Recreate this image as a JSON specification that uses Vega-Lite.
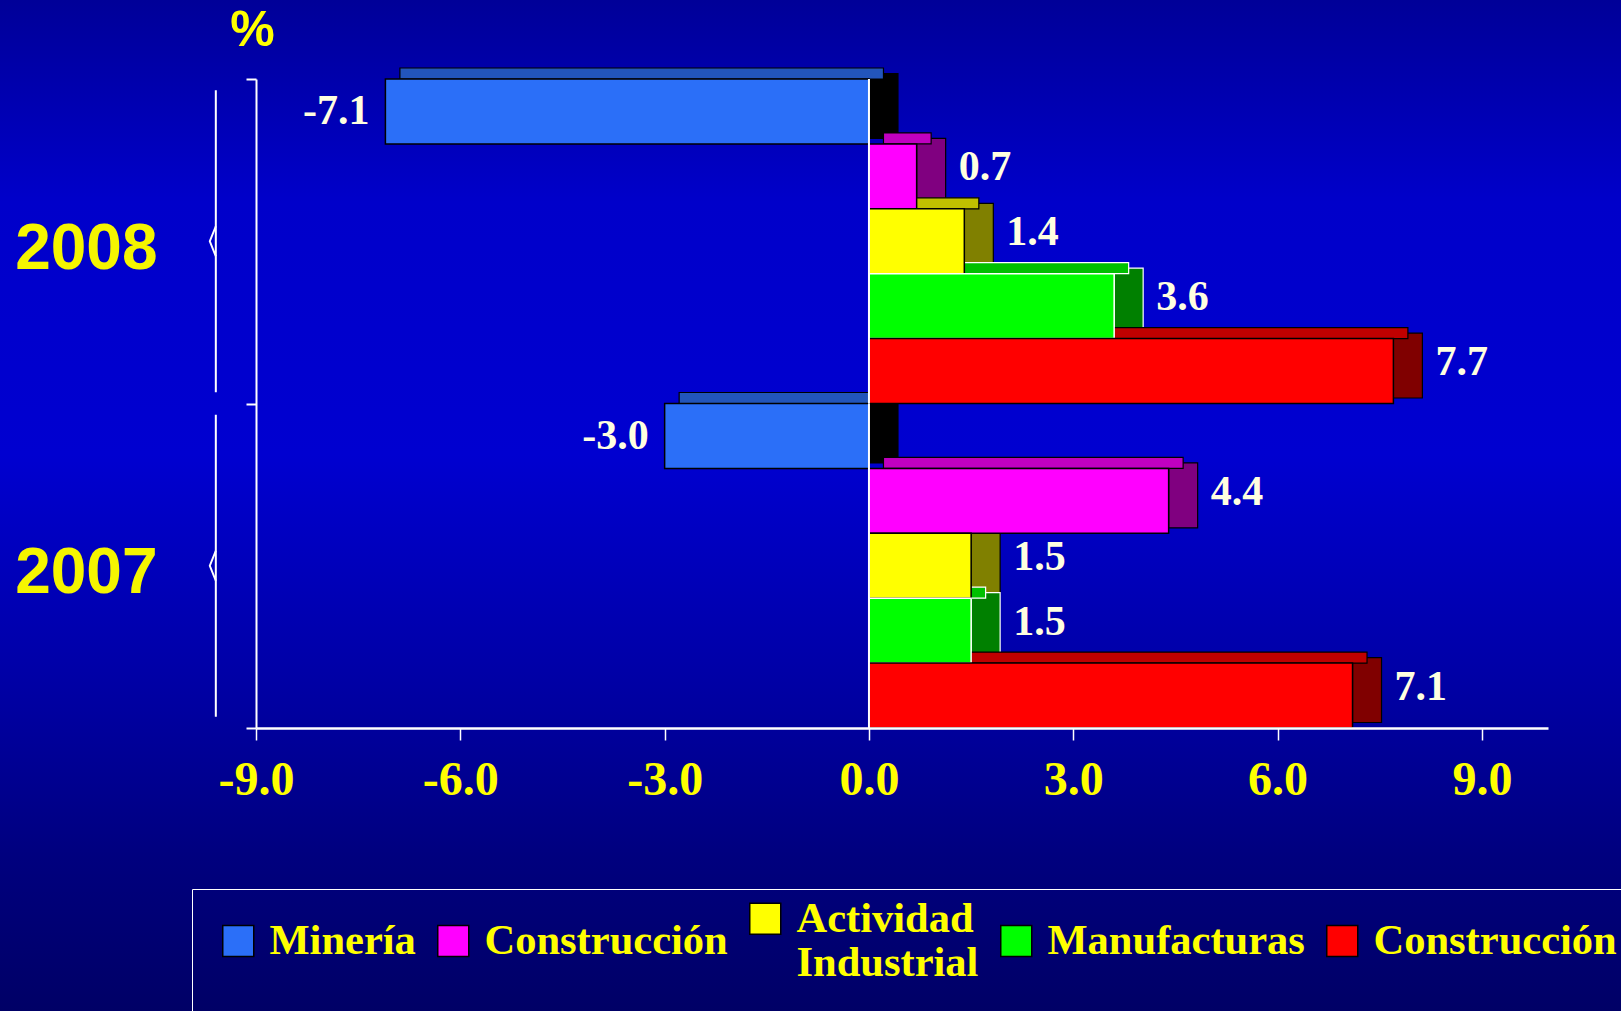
{
  "$schema": "https://vega.github.io/schema/vega-lite/v6.json",
  "width": 1621,
  "height": 1011,
  "autosize": {"type": "none"},
  "padding": 0,
  "background": "#0000B0",
  "config": {
    "view": {
      "stroke": null,
      "fill": {"gradient": "linear", "x1": 0, "y1": 0, "x2": 0, "y2": 1,
        "stops": [
          {"offset": 0, "color": "#000098"},
          {"offset": 0.2, "color": "#0000CA"},
          {"offset": 0.45, "color": "#0000D0"},
          {"offset": 0.7, "color": "#0000A0"},
          {"offset": 0.85, "color": "#00007E"},
          {"offset": 1, "color": "#000066"}
        ]}
    },
    "locale": {"number": {"decimal": ".", "thousands": ",", "grouping": [3], "currency": ["$", ""], "minus": "-"}}
  },
  "data": {
    "values": [
      {"year": "2008", "serie": "Minería", "v": -7.1},
      {"year": "2008", "serie": "Construcción", "v": 0.7},
      {"year": "2008", "serie": "Actividad Industrial", "v": 1.4},
      {"year": "2008", "serie": "Manufacturas", "v": 3.6},
      {"year": "2008", "serie": "Construcción ", "v": 7.7},
      {"year": "2007", "serie": "Minería", "v": -3.0},
      {"year": "2007", "serie": "Construcción", "v": 4.4},
      {"year": "2007", "serie": "Actividad Industrial", "v": 1.5},
      {"year": "2007", "serie": "Manufacturas", "v": 1.5},
      {"year": "2007", "serie": "Construcción ", "v": 7.1}
    ]
  },
  "layer": [
    {
      "transform": [{"filter": "datum.serie === 'Minería'"}],
      "mark": {"type": "bar", "fill": null, "stroke": "white", "strokeWidth": 2, "height": {"band": 0.93}},
      "encoding": {
        "x": {"datum": -9.59, "type": "quantitative", "scale": {"domain": [-9, 9.97], "range": [256, 1548], "nice": false, "zero": false},
          "axis": {"orient": "bottom", "offset": -283, "zindex": 1, "title": null, "values": [-9, -6, -3, 0, 3, 6, 9], "format": ".1f", "grid": false, "labelFlush": false,
            "tickSize": 12, "tickColor": "white", "tickWidth": 1.5, "domainColor": "white", "domainWidth": 2.5,
            "labelColor": "#FFFF00", "labelFont": "Liberation Serif", "labelFontWeight": "bold", "labelFontSize": 48, "labelPadding": 16}},
        "x2": {"datum": -9.59},
        "y": {"field": "year", "type": "nominal", "scale": {"domain": ["2008", "2007"], "range": [79, 728], "paddingInner": 0, "paddingOuter": 0},
          "axis": {"orient": "left", "offset": -256, "zindex": 1, "title": "%", "titleAngle": 0, "titleX": -4, "titleY": 30, "titleAlign": "center", "titleBaseline": "middle",
            "titleFont": "Liberation Sans", "titleFontWeight": "bold", "titleFontSize": 50, "titleColor": "#FFFF00",
            "labelFont": "Liberation Sans", "labelFontWeight": "bold", "labelFontSize": 64, "labelColor": "#F5F500", "labelPadding": 89, "labelOffset": 8,
            "tickBand": "extent", "tickSize": 10, "tickColor": "white", "tickWidth": 2, "domainColor": "white", "domainWidth": 2, "grid": false}}
      }
    },
    {
      "transform": [{"filter": "datum.serie === 'Minería'"}],
      "mark": {"type": "point", "shape": "M0,-1 L-0.4,0 L0,1", "size": 900, "filled": false, "stroke": "white", "strokeWidth": 2, "opacity": 1},
      "encoding": {
        "x": {"datum": -9.59, "type": "quantitative", "scale": {"domain": [-9, 9.97], "range": [256, 1548], "nice": false, "zero": false}},
        "y": {"field": "year", "type": "nominal", "scale": {"domain": ["2008", "2007"], "range": [79, 728], "paddingInner": 0, "paddingOuter": 0}}
      }
    },
    {
      "transform": [{"filter": "datum.v > 0"}],
      "mark": {"type": "bar", "x2Offset": 29, "strokeWidth": 1.2},
      "encoding": {
        "x": {"field": "v", "type": "quantitative", "scale": {"domain": [-9, 9.97], "range": [256, 1548], "nice": false, "zero": false}},
        "x2": {"field": "v"},
        "y": {"field": "year", "type": "nominal", "scale": {"domain": ["2008", "2007"], "range": [79, 728], "paddingInner": 0, "paddingOuter": 0}},
        "yOffset": {"field": "serie", "type": "nominal", "scale": {"domain": ["Minería", "Construcción", "Actividad Industrial", "Manufacturas", "Construcción "], "range": [-5.5, 319], "paddingInner": 0, "paddingOuter": 0}},
        "fill": {"field": "serie", "type": "nominal", "scale": {"domain": ["Minería", "Construcción", "Actividad Industrial", "Manufacturas", "Construcción "], "range": ["#000000", "#800080", "#808000", "#008000", "#800000"]}, "legend": null},
        "stroke": {"condition": {"test": "datum.serie === 'Manufacturas'", "value": "white"}, "value": "black"}
      }
    },
    {
      "transform": [{"filter": "datum.v < 0"}],
      "mark": {"type": "bar", "x2Offset": 29, "strokeWidth": 1.2},
      "encoding": {
        "x": {"datum": 0, "type": "quantitative", "scale": {"domain": [-9, 9.97], "range": [256, 1548], "nice": false, "zero": false}},
        "x2": {"datum": 0},
        "y": {"field": "year", "type": "nominal", "scale": {"domain": ["2008", "2007"], "range": [79, 728], "paddingInner": 0, "paddingOuter": 0}},
        "yOffset": {"field": "serie", "type": "nominal", "scale": {"domain": ["Minería", "Construcción", "Actividad Industrial", "Manufacturas", "Construcción "], "range": [-5.5, 319], "paddingInner": 0, "paddingOuter": 0}},
        "fill": {"field": "serie", "type": "nominal", "scale": {"domain": ["Minería", "Construcción", "Actividad Industrial", "Manufacturas", "Construcción "], "range": ["#000000", "#800080", "#808000", "#008000", "#800000"]}, "legend": null},
        "stroke": {"value": "black"}
      }
    },
    {
      "mark": {"type": "bar", "xOffset": 14.5, "x2Offset": 14.5, "strokeWidth": 1.2},
      "encoding": {
        "x": {"field": "v", "type": "quantitative", "scale": {"domain": [-9, 9.97], "range": [256, 1548], "nice": false, "zero": false}},
        "x2": {"datum": 0},
        "y": {"field": "year", "type": "nominal", "scale": {"domain": ["2008", "2007"], "range": [79, 728], "paddingInner": 0, "paddingOuter": 0}},
        "yOffset": {"field": "serie", "type": "nominal", "scale": {"domain": ["Minería", "Construcción", "Actividad Industrial", "Manufacturas", "Construcción "], "range": [-11, 259.6], "paddingInner": 0.8305, "paddingOuter": 0}},
        "fill": {"field": "serie", "type": "nominal", "scale": {"domain": ["Minería", "Construcción", "Actividad Industrial", "Manufacturas", "Construcción "], "range": ["#2255BB", "#C000C0", "#C0C000", "#00C000", "#C00000"]}, "legend": null},
        "stroke": {"condition": {"test": "datum.serie === 'Manufacturas'", "value": "white"}, "value": "black"}
      }
    },
    {
      "mark": {"type": "bar", "strokeWidth": 1.5},
      "encoding": {
        "x": {"field": "v", "type": "quantitative", "scale": {"domain": [-9, 9.97], "range": [256, 1548], "nice": false, "zero": false}},
        "x2": {"datum": 0},
        "y": {"field": "year", "type": "nominal", "scale": {"domain": ["2008", "2007"], "range": [79, 728], "paddingInner": 0, "paddingOuter": 0}},
        "yOffset": {"field": "serie", "type": "nominal", "scale": {"domain": ["Minería", "Construcción", "Actividad Industrial", "Manufacturas", "Construcción "], "paddingInner": 0, "paddingOuter": 0}},
        "color": {"field": "serie", "type": "nominal",
          "scale": {"domain": ["Minería", "Construcción", "Actividad Industrial", "Manufacturas", "Construcción "], "range": ["#2B6FF8", "#FF00FF", "#FFFF00", "#00FF00", "#FF0000"]},
          "legend": {"orient": "none", "legendX": 192, "legendY": 889, "direction": "horizontal", "columns": 5,
            "title": [" ", " ", " ", " "], "titleOrient": "left", "titleFont": "Liberation Sans", "titleFontSize": 40, "titlePadding": 17,
            "strokeColor": "white", "padding": 8, "symbolType": "square", "symbolSize": 961,
            "labelFont": "Liberation Serif", "labelFontWeight": "bold", "labelFontSize": 42.5, "labelColor": "#FFFF00", "labelOffset": 10, "labelLimit": 600,
            "columnPadding": 16,
            "labelExpr": "datum.label === 'Actividad Industrial' ? ['Actividad', 'Industrial'] : datum.label"}},
        "stroke": {"condition": {"test": "datum.serie === 'Manufacturas'", "value": "white"}, "value": "black"}
      }
    },
    {
      "transform": [{"filter": "datum.serie === 'Minería'"}],
      "mark": {"type": "rect", "fill": null, "stroke": "white", "strokeWidth": 2},
      "encoding": {
        "x": {"datum": 0, "type": "quantitative", "scale": {"domain": [-9, 9.97], "range": [256, 1548], "nice": false, "zero": false}},
        "x2": {"datum": 0},
        "y": {"field": "year", "type": "nominal", "scale": {"domain": ["2008", "2007"], "range": [79, 728], "paddingInner": 0, "paddingOuter": 0}}
      }
    },
    {
      "transform": [{"filter": "datum.v > 0"}],
      "mark": {"type": "text", "align": "left", "baseline": "middle", "dx": 42, "dy": -9, "font": "Liberation Serif", "fontWeight": "bold", "fontSize": 42, "fill": "#FFFFE0"},
      "encoding": {
        "x": {"field": "v", "type": "quantitative", "scale": {"domain": [-9, 9.97], "range": [256, 1548], "nice": false, "zero": false}},
        "y": {"field": "year", "type": "nominal", "scale": {"domain": ["2008", "2007"], "range": [79, 728], "paddingInner": 0, "paddingOuter": 0}},
        "yOffset": {"field": "serie", "type": "nominal", "scale": {"type": "band", "domain": ["Minería", "Construcción", "Actividad Industrial", "Manufacturas", "Construcción "], "paddingInner": 0, "paddingOuter": 0}},
        "text": {"field": "v", "type": "quantitative", "format": ".1f"}
      }
    },
    {
      "transform": [{"filter": "datum.v < 0"}],
      "mark": {"type": "text", "align": "right", "baseline": "middle", "dx": -16, "dy": 0, "font": "Liberation Serif", "fontWeight": "bold", "fontSize": 42, "fill": "#FFFFE0"},
      "encoding": {
        "x": {"field": "v", "type": "quantitative", "scale": {"domain": [-9, 9.97], "range": [256, 1548], "nice": false, "zero": false}},
        "y": {"field": "year", "type": "nominal", "scale": {"domain": ["2008", "2007"], "range": [79, 728], "paddingInner": 0, "paddingOuter": 0}},
        "yOffset": {"field": "serie", "type": "nominal", "scale": {"type": "band", "domain": ["Minería", "Construcción", "Actividad Industrial", "Manufacturas", "Construcción "], "paddingInner": 0, "paddingOuter": 0}},
        "text": {"field": "v", "type": "quantitative", "format": ".1f"}
      }
    }
  ],
  "resolve": {"scale": {"fill": "independent", "yOffset": "independent"}}
}
